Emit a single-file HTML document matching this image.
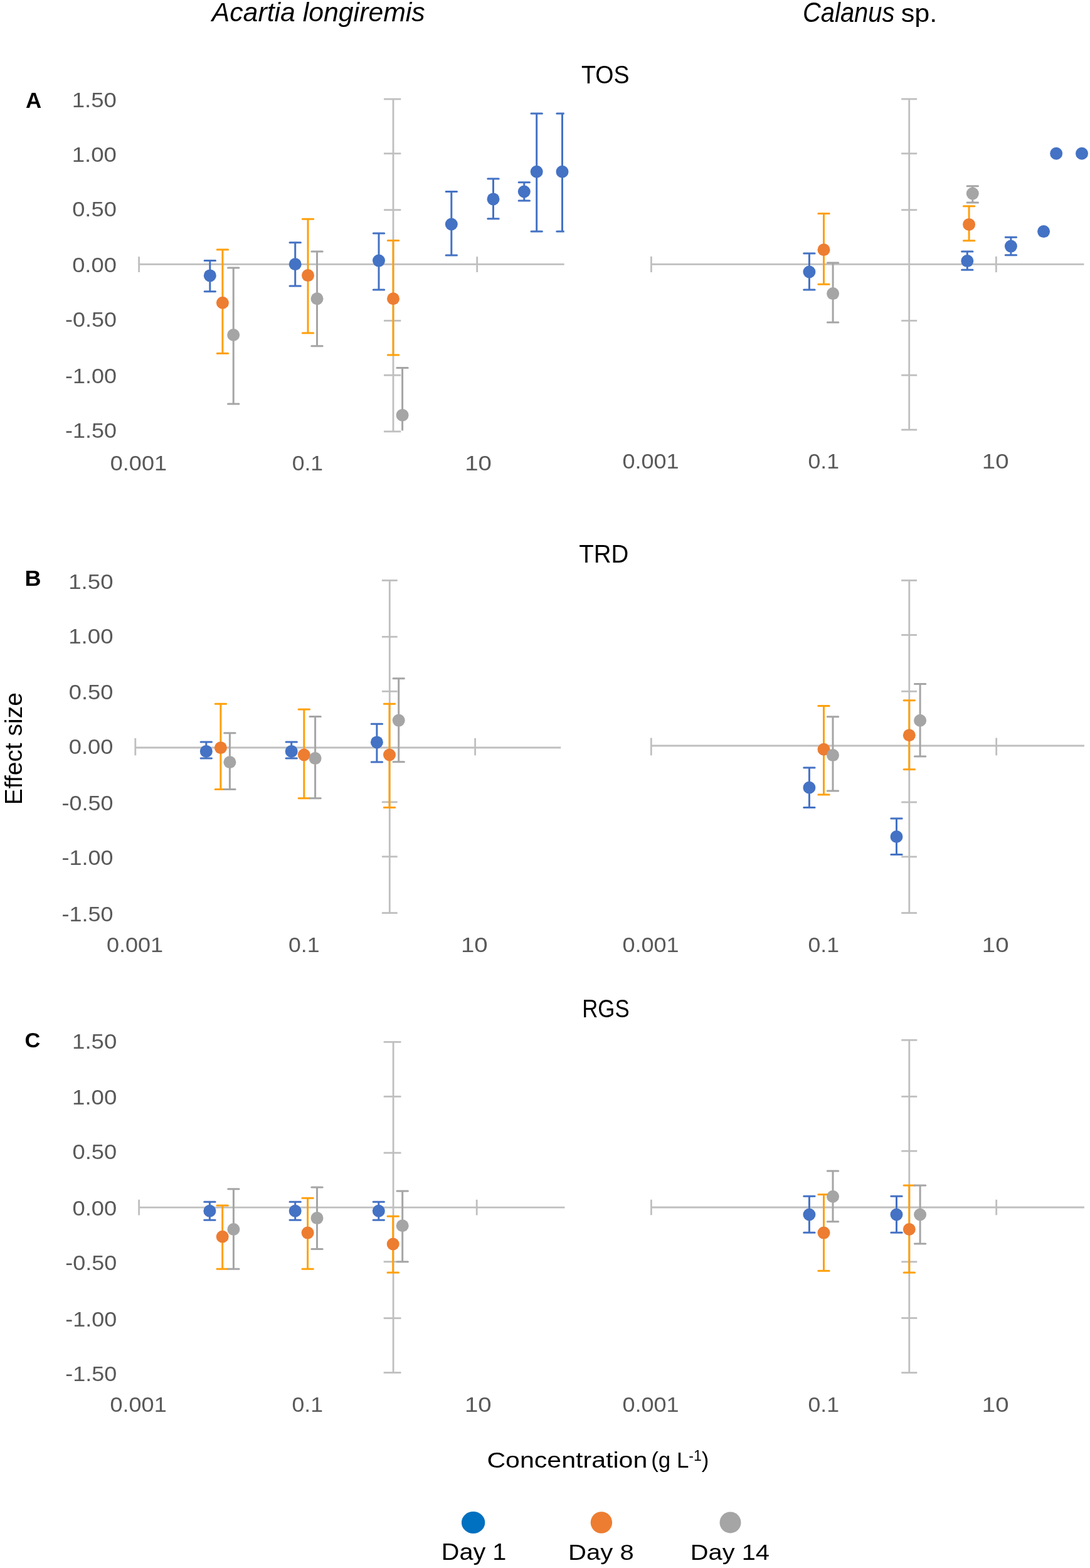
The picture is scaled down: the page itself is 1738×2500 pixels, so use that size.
<!DOCTYPE html><html><head><meta charset='utf-8'><style>html,body{margin:0;padding:0;background:#fff;}svg{display:block;}</style></head><body>
<svg width='1738' height='2500' viewBox='0 0 1738 2500' font-family='Liberation Sans, Arial, sans-serif'>
<rect width='1738' height='2500' fill='#fff'/>
<defs><clipPath id='cAL'><rect x='191.6' y='157.0' width='708.1' height='529.5'/></clipPath><clipPath id='cAR'><rect x='1008.4' y='156.9' width='720.0' height='526.8'/></clipPath><clipPath id='cBL'><rect x='185.8' y='924.4' width='708.4' height='529.7'/></clipPath><clipPath id='cBR'><rect x='1008.3' y='924.4' width='720.6' height='529.7'/></clipPath><clipPath id='cCL'><rect x='191.6' y='1660.3' width='708.9' height='526.7'/></clipPath><clipPath id='cCR'><rect x='1008.4' y='1657.3' width='720.5' height='529.8'/></clipPath></defs>
<g stroke='#BFBFBF' stroke-width='2.8' fill='none'><line x1='221.6' y1='421.4' x2='899.7' y2='421.4'/><line x1='221.6' y1='409.2' x2='221.6' y2='434.0'/><line x1='760.7' y1='409.2' x2='760.7' y2='434.0'/><line x1='627.0' y1='158.0' x2='627.0' y2='688.0'/><line x1='612.0' y1='158.0' x2='639.3' y2='158.0'/><line x1='612.0' y1='244.8' x2='639.3' y2='244.8'/><line x1='612.0' y1='334.7' x2='639.3' y2='334.7'/><line x1='612.0' y1='511.3' x2='639.3' y2='511.3'/><line x1='612.0' y1='598.2' x2='639.3' y2='598.2'/><line x1='612.0' y1='688.0' x2='639.3' y2='688.0'/></g><path clip-path='url(#cAL)' d='M334.8 415.6V464.7M326.1 415.6H343.5M326.1 464.7H343.5M470.7 386.7V456.0M462.0 386.7H479.4M462.0 456.0H479.4M604.0 372.0V462.0M595.3 372.0H612.7M595.3 462.0H612.7M719.8 305.4V406.9M711.1 305.4H728.5M711.1 406.9H728.5M786.5 284.9V348.8M777.8 284.9H795.2M777.8 348.8H795.2M835.8 290.8V319.9M827.1 290.8H844.5M827.1 319.9H844.5M855.7 181.0V369.0M847.0 181.0H864.4M847.0 369.0H864.4M896.5 181.0V369.0M887.8 181.0H905.2M887.8 369.0H905.2' stroke='#4472C4' stroke-width='3.0' stroke-linecap='round' fill='none'/><g fill='#4472C4'><circle cx='334.8' cy='439.4' r='10.0'/><circle cx='470.7' cy='421.2' r='10.0'/><circle cx='604.0' cy='415.6' r='10.0'/><circle cx='719.8' cy='357.5' r='10.0'/><circle cx='786.5' cy='317.4' r='10.0'/><circle cx='835.8' cy='305.5' r='10.0'/><circle cx='855.7' cy='273.8' r='10.0'/><circle cx='896.5' cy='273.8' r='10.0'/></g><path clip-path='url(#cAL)' d='M354.9 398.0V563.5M346.2 398.0H363.6M346.2 563.5H363.6M491.0 349.2V531.0M482.3 349.2H499.7M482.3 531.0H499.7M627.0 383.6V566.0M618.3 383.6H635.7M618.3 566.0H635.7' stroke='#FFA00A' stroke-width='3.0' stroke-linecap='round' fill='none'/><g fill='#ED7D31'><circle cx='354.9' cy='482.8' r='10.0'/><circle cx='491.0' cy='439.1' r='10.0'/><circle cx='627.0' cy='476.3' r='10.0'/></g><path clip-path='url(#cAL)' d='M372.2 427.0V644.0M363.5 427.0H380.9M363.5 644.0H380.9M505.5 401.1V551.7M496.8 401.1H514.2M496.8 551.7H514.2M641.6 586.4V720.0M632.9 586.4H650.3M632.9 720.0H650.3' stroke='#A5A5A5' stroke-width='3.0' stroke-linecap='round' fill='none'/><g fill='#A5A5A5'><circle cx='372.2' cy='534.0' r='10.0'/><circle cx='505.5' cy='476.3' r='10.0'/><circle cx='641.6' cy='661.9' r='10.0'/></g>
<g stroke='#BFBFBF' stroke-width='2.8' fill='none'><line x1='1038.4' y1='421.3' x2='1728.4' y2='421.3'/><line x1='1038.4' y1='408.9' x2='1038.4' y2='434.1'/><line x1='1588.4' y1='408.9' x2='1588.4' y2='434.1'/><line x1='1449.7' y1='157.9' x2='1449.7' y2='685.2'/><line x1='1437.2' y1='157.9' x2='1462.2' y2='157.9'/><line x1='1437.2' y1='244.8' x2='1462.2' y2='244.8'/><line x1='1437.2' y1='334.7' x2='1462.2' y2='334.7'/><line x1='1437.2' y1='511.3' x2='1462.2' y2='511.3'/><line x1='1437.2' y1='598.2' x2='1462.2' y2='598.2'/><line x1='1437.2' y1='685.2' x2='1462.2' y2='685.2'/></g><path clip-path='url(#cAR)' d='M1290.4 404.0V462.0M1281.7 404.0H1299.1M1281.7 462.0H1299.1M1542.3 401.1V430.2M1533.6 401.1H1551.0M1533.6 430.2H1551.0M1611.9 378.2V406.7M1603.2 378.2H1620.6M1603.2 406.7H1620.6' stroke='#4472C4' stroke-width='3.0' stroke-linecap='round' fill='none'/><g fill='#4472C4'><circle cx='1290.4' cy='433.5' r='10.0'/><circle cx='1542.3' cy='416.1' r='10.0'/><circle cx='1611.9' cy='392.6' r='10.0'/><circle cx='1664.1' cy='369.1' r='10.0'/><circle cx='1684.2' cy='244.7' r='10.0'/><circle cx='1725.0' cy='244.7' r='10.0'/></g><path clip-path='url(#cAR)' d='M1313.5 340.4V453.3M1304.8 340.4H1322.2M1304.8 453.3H1322.2M1545.1 328.8V383.7M1536.4 328.8H1553.8M1536.4 383.7H1553.8' stroke='#FFA00A' stroke-width='3.0' stroke-linecap='round' fill='none'/><g fill='#ED7D31'><circle cx='1313.5' cy='398.3' r='10.0'/><circle cx='1545.1' cy='357.9' r='10.0'/></g><path clip-path='url(#cAR)' d='M1328.1 419.0V513.9M1319.4 419.0H1336.8M1319.4 513.9H1336.8M1550.8 296.8V323.1M1542.1 296.8H1559.5M1542.1 323.1H1559.5' stroke='#A5A5A5' stroke-width='3.0' stroke-linecap='round' fill='none'/><g fill='#A5A5A5'><circle cx='1328.1' cy='468.1' r='10.0'/><circle cx='1550.8' cy='308.6' r='10.0'/></g>
<g stroke='#BFBFBF' stroke-width='2.8' fill='none'><line x1='215.8' y1='1192.0' x2='894.2' y2='1192.0'/><line x1='215.8' y1='1176.9' x2='215.8' y2='1204.4'/><line x1='757.6' y1='1176.9' x2='757.6' y2='1204.4'/><line x1='621.3' y1='925.4' x2='621.3' y2='1455.6'/><line x1='608.9' y1='925.4' x2='633.7' y2='925.4'/><line x1='608.9' y1='1015.3' x2='633.7' y2='1015.3'/><line x1='608.9' y1='1102.3' x2='633.7' y2='1102.3'/><line x1='608.9' y1='1278.8' x2='633.7' y2='1278.8'/><line x1='608.9' y1='1365.8' x2='633.7' y2='1365.8'/><line x1='608.9' y1='1455.6' x2='633.7' y2='1455.6'/></g><path clip-path='url(#cBL)' d='M328.8 1183.0V1209.1M320.1 1183.0H337.5M320.1 1209.1H337.5M464.7 1183.0V1209.1M456.0 1183.0H473.4M456.0 1209.1H473.4M600.9 1154.2V1215.0M592.2 1154.2H609.6M592.2 1215.0H609.6' stroke='#4472C4' stroke-width='3.0' stroke-linecap='round' fill='none'/><g fill='#4472C4'><circle cx='328.8' cy='1197.9' r='10.0'/><circle cx='464.7' cy='1197.9' r='10.0'/><circle cx='600.9' cy='1183.4' r='10.0'/></g><path clip-path='url(#cBL)' d='M351.9 1122.3V1258.6M343.2 1122.3H360.6M343.2 1258.6H360.6M484.8 1131.1V1272.7M476.1 1131.1H493.5M476.1 1272.7H493.5M621.0 1122.3V1287.6M612.3 1122.3H629.7M612.3 1287.6H629.7' stroke='#FFA00A' stroke-width='3.0' stroke-linecap='round' fill='none'/><g fill='#ED7D31'><circle cx='351.9' cy='1192.2' r='10.0'/><circle cx='484.8' cy='1203.5' r='10.0'/><circle cx='621.0' cy='1203.5' r='10.0'/></g><path clip-path='url(#cBL)' d='M366.4 1168.7V1258.6M357.7 1168.7H375.1M357.7 1258.6H375.1M502.6 1142.6V1272.7M493.9 1142.6H511.3M493.9 1272.7H511.3M635.7 1081.8V1214.8M627.0 1081.8H644.4M627.0 1214.8H644.4' stroke='#A5A5A5' stroke-width='3.0' stroke-linecap='round' fill='none'/><g fill='#A5A5A5'><circle cx='366.4' cy='1215.3' r='10.0'/><circle cx='502.6' cy='1209.1' r='10.0'/><circle cx='635.7' cy='1148.6' r='10.0'/></g>
<g stroke='#BFBFBF' stroke-width='2.8' fill='none'><line x1='1038.3' y1='1189.0' x2='1728.9' y2='1189.0'/><line x1='1038.3' y1='1176.5' x2='1038.3' y2='1204.4'/><line x1='1588.7' y1='1176.5' x2='1588.7' y2='1204.4'/><line x1='1449.8' y1='925.4' x2='1449.8' y2='1455.6'/><line x1='1437.2' y1='925.4' x2='1462.0' y2='925.4'/><line x1='1437.2' y1='1012.4' x2='1462.0' y2='1012.4'/><line x1='1437.2' y1='1102.3' x2='1462.0' y2='1102.3'/><line x1='1437.2' y1='1279.0' x2='1462.0' y2='1279.0'/><line x1='1437.2' y1='1366.0' x2='1462.0' y2='1366.0'/><line x1='1437.2' y1='1455.6' x2='1462.0' y2='1455.6'/></g><path clip-path='url(#cBR)' d='M1290.4 1223.9V1287.4M1281.7 1223.9H1299.1M1281.7 1287.4H1299.1M1429.5 1304.9V1362.6M1420.8 1304.9H1438.2M1420.8 1362.6H1438.2' stroke='#4472C4' stroke-width='3.0' stroke-linecap='round' fill='none'/><g fill='#4472C4'><circle cx='1290.4' cy='1255.8' r='10.0'/><circle cx='1429.5' cy='1334.0' r='10.0'/></g><path clip-path='url(#cBR)' d='M1313.5 1125.6V1267.1M1304.8 1125.6H1322.2M1304.8 1267.1H1322.2M1449.8 1116.7V1226.8M1441.1 1116.7H1458.5M1441.1 1226.8H1458.5' stroke='#FFA00A' stroke-width='3.0' stroke-linecap='round' fill='none'/><g fill='#ED7D31'><circle cx='1313.5' cy='1194.7' r='10.0'/><circle cx='1449.8' cy='1172.2' r='10.0'/></g><path clip-path='url(#cBR)' d='M1328.0 1142.7V1261.1M1319.3 1142.7H1336.7M1319.3 1261.1H1336.7M1467.1 1090.4V1206.1M1458.4 1090.4H1475.8M1458.4 1206.1H1475.8' stroke='#A5A5A5' stroke-width='3.0' stroke-linecap='round' fill='none'/><g fill='#A5A5A5'><circle cx='1328.0' cy='1204.1' r='10.0'/><circle cx='1467.1' cy='1148.7' r='10.0'/></g>
<g stroke='#BFBFBF' stroke-width='2.8' fill='none'><line x1='221.6' y1='1925.1' x2='900.5' y2='1925.1'/><line x1='221.6' y1='1912.7' x2='221.6' y2='1937.5'/><line x1='760.2' y1='1912.7' x2='760.2' y2='1937.5'/><line x1='627.1' y1='1661.3' x2='627.1' y2='2188.5'/><line x1='611.7' y1='1661.3' x2='639.5' y2='1661.3'/><line x1='611.7' y1='1748.3' x2='639.5' y2='1748.3'/><line x1='611.7' y1='1838.1' x2='639.5' y2='1838.1'/><line x1='611.7' y1='2011.7' x2='639.5' y2='2011.7'/><line x1='611.7' y1='2101.7' x2='639.5' y2='2101.7'/><line x1='611.7' y1='2188.5' x2='639.5' y2='2188.5'/></g><path clip-path='url(#cCL)' d='M334.4 1916.2V1945.3M325.7 1916.2H343.1M325.7 1945.3H343.1M470.7 1916.2V1945.3M462.0 1916.2H479.4M462.0 1945.3H479.4M603.8 1916.2V1945.3M595.1 1916.2H612.5M595.1 1945.3H612.5' stroke='#4472C4' stroke-width='3.0' stroke-linecap='round' fill='none'/><g fill='#4472C4'><circle cx='334.4' cy='1930.8' r='10.0'/><circle cx='470.7' cy='1930.8' r='10.0'/><circle cx='603.8' cy='1930.8' r='10.0'/></g><path clip-path='url(#cCL)' d='M354.7 1922.0V2023.3M346.0 1922.0H363.4M346.0 2023.3H363.4M490.6 1910.2V2023.3M481.9 1910.2H499.3M481.9 2023.3H499.3M626.7 1939.3V2029.1M618.0 1939.3H635.4M618.0 2029.1H635.4' stroke='#FFA00A' stroke-width='3.0' stroke-linecap='round' fill='none'/><g fill='#ED7D31'><circle cx='354.7' cy='1971.8' r='10.0'/><circle cx='490.6' cy='1965.6' r='10.0'/><circle cx='626.7' cy='1983.5' r='10.0'/></g><path clip-path='url(#cCL)' d='M372.4 1895.7V2023.3M363.7 1895.7H381.1M363.7 2023.3H381.1M505.5 1892.9V1991.4M496.8 1892.9H514.2M496.8 1991.4H514.2M641.7 1898.9V2011.7M633.0 1898.9H650.4M633.0 2011.7H650.4' stroke='#A5A5A5' stroke-width='3.0' stroke-linecap='round' fill='none'/><g fill='#A5A5A5'><circle cx='372.4' cy='1960.0' r='10.0'/><circle cx='505.5' cy='1942.1' r='10.0'/><circle cx='641.7' cy='1954.3' r='10.0'/></g>
<g stroke='#BFBFBF' stroke-width='2.8' fill='none'><line x1='1038.4' y1='1925.0' x2='1728.9' y2='1925.0'/><line x1='1038.4' y1='1912.7' x2='1038.4' y2='1937.3'/><line x1='1588.7' y1='1912.7' x2='1588.7' y2='1937.3'/><line x1='1449.8' y1='1658.3' x2='1449.8' y2='2188.6'/><line x1='1437.3' y1='1658.3' x2='1462.3' y2='1658.3'/><line x1='1437.3' y1='1748.3' x2='1462.3' y2='1748.3'/><line x1='1437.3' y1='1835.2' x2='1462.3' y2='1835.2'/><line x1='1437.3' y1='2011.8' x2='1462.3' y2='2011.8'/><line x1='1437.3' y1='2101.5' x2='1462.3' y2='2101.5'/><line x1='1437.3' y1='2188.6' x2='1462.3' y2='2188.6'/></g><path clip-path='url(#cCR)' d='M1290.4 1907.3V1965.2M1281.7 1907.3H1299.1M1281.7 1965.2H1299.1M1429.5 1907.3V1965.2M1420.8 1907.3H1438.2M1420.8 1965.2H1438.2' stroke='#4472C4' stroke-width='3.0' stroke-linecap='round' fill='none'/><g fill='#4472C4'><circle cx='1290.4' cy='1936.5' r='10.0'/><circle cx='1429.5' cy='1936.5' r='10.0'/></g><path clip-path='url(#cCR)' d='M1313.5 1904.5V2026.3M1304.8 1904.5H1322.2M1304.8 2026.3H1322.2M1449.8 1890.0V2029.0M1441.1 1890.0H1458.5M1441.1 2029.0H1458.5' stroke='#FFA00A' stroke-width='3.0' stroke-linecap='round' fill='none'/><g fill='#ED7D31'><circle cx='1313.5' cy='1965.6' r='10.0'/><circle cx='1449.8' cy='1960.0' r='10.0'/></g><path clip-path='url(#cCR)' d='M1328.0 1866.9V1947.7M1319.3 1866.9H1336.7M1319.3 1947.7H1336.7M1467.1 1890.0V1982.9M1458.4 1890.0H1475.8M1458.4 1982.9H1475.8' stroke='#A5A5A5' stroke-width='3.0' stroke-linecap='round' fill='none'/><g fill='#A5A5A5'><circle cx='1328.0' cy='1907.7' r='10.0'/><circle cx='1467.1' cy='1936.5' r='10.0'/></g>
<ellipse cx='754.6' cy='2427.5' rx='18.7' ry='17.5' fill='#0070C0'/>
<circle cx='958.9' cy='2427.5' r='17.2' fill='#ED7D31'/>
<circle cx='1164.5' cy='2427.4' r='17.0' fill='#A5A5A5'/>
<text transform='translate(337.64,34.30) scale(0.9984,1)' font-size='42.88' font-style='italic' fill='#000'>Acartia longiremis</text>
<text transform='translate(1280.00,34.80) scale(0.9112,1)' font-size='43.84' font-style='italic' fill='#000'>Calanus</text>
<text transform='translate(1436.71,34.80) scale(1.0637,1)' font-size='40.56' fill='#000'>sp.</text>
<text transform='translate(927.05,133.20) scale(0.9194,1)' font-size='40.86' fill='#000'>TOS</text>
<text transform='translate(923.23,897.30) scale(0.9555,1)' font-size='40.29' fill='#000'>TRD</text>
<text transform='translate(928.22,1621.60) scale(0.8489,1)' font-size='41.00' fill='#000'>RGS</text>
<text transform='translate(40.95,172.00) scale(0.9957,1)' font-size='35.00' font-weight='bold' fill='#000'>A</text>
<text transform='translate(39.48,933.90) scale(1.0412,1)' font-size='34.64' font-weight='bold' fill='#000'>B</text>
<text transform='translate(39.53,1670.00) scale(1.0351,1)' font-size='33.14' font-weight='bold' fill='#000'>C</text>
<text transform='translate(114.67,171.20) scale(1.1241,1)' font-size='32.57' fill='#595959'>1.50</text>
<text transform='translate(114.67,257.90) scale(1.1241,1)' font-size='32.57' fill='#595959'>1.00</text>
<text transform='translate(115.15,345.10) scale(1.1164,1)' font-size='32.57' fill='#595959'>0.50</text>
<text transform='translate(115.15,434.20) scale(1.1164,1)' font-size='32.57' fill='#595959'>0.00</text>
<text transform='translate(103.96,521.30) scale(1.1053,1)' font-size='32.57' fill='#595959'>-0.50</text>
<text transform='translate(103.96,611.00) scale(1.1053,1)' font-size='32.57' fill='#595959'>-1.00</text>
<text transform='translate(103.96,698.20) scale(1.1053,1)' font-size='32.57' fill='#595959'>-1.50</text>
<text transform='translate(109.27,938.70) scale(1.1241,1)' font-size='32.57' fill='#595959'>1.50</text>
<text transform='translate(109.27,1025.75) scale(1.1241,1)' font-size='32.57' fill='#595959'>1.00</text>
<text transform='translate(109.75,1115.05) scale(1.1164,1)' font-size='32.57' fill='#595959'>0.50</text>
<text transform='translate(109.75,1202.30) scale(1.1164,1)' font-size='32.57' fill='#595959'>0.00</text>
<text transform='translate(98.56,1292.10) scale(1.1053,1)' font-size='32.57' fill='#595959'>-0.50</text>
<text transform='translate(98.56,1379.20) scale(1.1053,1)' font-size='32.57' fill='#595959'>-1.00</text>
<text transform='translate(98.56,1468.90) scale(1.1053,1)' font-size='32.57' fill='#595959'>-1.50</text>
<text transform='translate(115.07,1672.00) scale(1.1241,1)' font-size='32.57' fill='#595959'>1.50</text>
<text transform='translate(115.07,1761.30) scale(1.1241,1)' font-size='32.57' fill='#595959'>1.00</text>
<text transform='translate(115.55,1848.10) scale(1.1164,1)' font-size='32.57' fill='#595959'>0.50</text>
<text transform='translate(115.55,1937.50) scale(1.1164,1)' font-size='32.57' fill='#595959'>0.00</text>
<text transform='translate(104.36,2024.60) scale(1.1053,1)' font-size='32.57' fill='#595959'>-0.50</text>
<text transform='translate(104.36,2114.50) scale(1.1053,1)' font-size='32.57' fill='#595959'>-1.00</text>
<text transform='translate(104.36,2201.60) scale(1.1053,1)' font-size='32.57' fill='#595959'>-1.50</text>
<text transform='translate(175.76,750.00) scale(1.0932,1)' font-size='33.00' fill='#595959'>0.001</text>
<text transform='translate(465.63,750.00) scale(1.0793,1)' font-size='33.00' fill='#595959'>0.1</text>
<text transform='translate(741.13,750.00) scale(1.1631,1)' font-size='33.00' fill='#595959'>10</text>
<text transform='translate(992.41,747.40) scale(1.0932,1)' font-size='33.00' fill='#595959'>0.001</text>
<text transform='translate(1288.43,747.40) scale(1.0793,1)' font-size='33.00' fill='#595959'>0.1</text>
<text transform='translate(1565.83,747.40) scale(1.1631,1)' font-size='33.00' fill='#595959'>10</text>
<text transform='translate(169.91,1517.80) scale(1.0932,1)' font-size='33.00' fill='#595959'>0.001</text>
<text transform='translate(459.93,1517.80) scale(1.0793,1)' font-size='33.00' fill='#595959'>0.1</text>
<text transform='translate(734.93,1517.80) scale(1.1631,1)' font-size='33.00' fill='#595959'>10</text>
<text transform='translate(992.41,1517.80) scale(1.0932,1)' font-size='33.00' fill='#595959'>0.001</text>
<text transform='translate(1288.43,1517.80) scale(1.0793,1)' font-size='33.00' fill='#595959'>0.1</text>
<text transform='translate(1565.83,1517.80) scale(1.1631,1)' font-size='33.00' fill='#595959'>10</text>
<text transform='translate(175.46,2250.90) scale(1.0932,1)' font-size='33.00' fill='#595959'>0.001</text>
<text transform='translate(465.43,2250.90) scale(1.0793,1)' font-size='33.00' fill='#595959'>0.1</text>
<text transform='translate(741.03,2250.90) scale(1.1631,1)' font-size='33.00' fill='#595959'>10</text>
<text transform='translate(992.41,2250.90) scale(1.0932,1)' font-size='33.00' fill='#595959'>0.001</text>
<text transform='translate(1288.43,2250.90) scale(1.0793,1)' font-size='33.00' fill='#595959'>0.1</text>
<text transform='translate(1565.83,2250.90) scale(1.1631,1)' font-size='33.00' fill='#595959'>10</text>
<text transform='translate(35.00,1283.32) rotate(-90) scale(0.9816,1)' font-size='39.73' fill='#000'>Effect size</text>
<text transform='translate(776.45,2340.00) scale(1.1719,1)' font-size='35.07' fill='#000'>Concentration</text>
<text transform='translate(1038.20,2340.00) scale(0.9728,1)' font-size='35.90' fill='#000'>(g L<tspan font-size='23.69' dy='-11.49'>-1</tspan><tspan dy='11.49'>)</tspan></text>
<text transform='translate(703.83,2487.40) scale(1.0842,1)' font-size='36.52' fill='#000'>Day 1</text>
<text transform='translate(906.10,2487.40) scale(1.1122,1)' font-size='36.00' fill='#000'>Day 8</text>
<text transform='translate(1100.81,2487.40) scale(1.1066,1)' font-size='36.00' fill='#000'>Day 14</text>
</svg></body></html>
